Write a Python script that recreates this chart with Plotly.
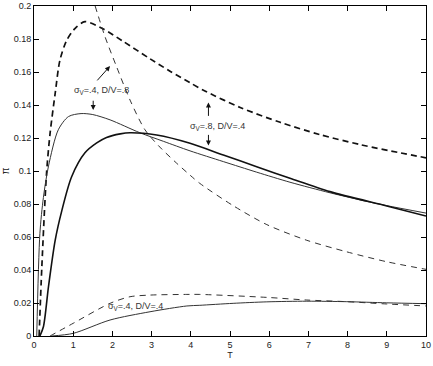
import plotly.graph_objects as go

# thick dashed curve
t_a = [0.13, 0.2, 0.32, 0.41, 0.54, 0.66, 0.83, 1.05, 1.3, 1.77, 2.28, 2.96, 3.47, 3.98, 4.36, 5.26, 6.28, 7.3, 8.32, 9.34, 10]
v_a = [0, 0.042, 0.0986, 0.1228, 0.147, 0.167, 0.179, 0.1865, 0.1905, 0.186, 0.1785, 0.168, 0.1605, 0.1535, 0.1485, 0.1385, 0.1295, 0.122, 0.116, 0.111, 0.108]

# thin dashed steep curve
t_b = [1.56, 1.81, 2.11, 2.45, 2.83, 3.21, 3.64, 3.98, 4.23, 5.08, 5.94, 6.96, 7.98, 9.0, 10]
v_b = [0.2, 0.1815, 0.163, 0.143, 0.125, 0.1145, 0.1047, 0.0975, 0.0925, 0.079, 0.0675, 0.058, 0.051, 0.045, 0.0404]

# thin solid upper
t_c = [0.07, 0.15, 0.24, 0.37, 0.62, 0.88, 1.2, 1.5, 1.94, 2.7, 3.3, 3.98, 4.83, 5.68, 6.53, 7.55, 8.5, 9.0, 10]
v_c = [0, 0.062, 0.084, 0.103, 0.125, 0.133, 0.1348, 0.1342, 0.131, 0.1232, 0.118, 0.1122, 0.1057, 0.0993, 0.0932, 0.0868, 0.0815, 0.079, 0.0745]

# thick solid upper
t_d = [0.15, 0.24, 0.37, 0.54, 0.71, 0.96, 1.3, 1.6, 1.85, 2.2, 2.45, 3.13, 3.98, 4.83, 5.68, 6.53, 7.55, 9.0, 10]
v_d = [0, 0.0056, 0.030, 0.058, 0.076, 0.0965, 0.111, 0.117, 0.1203, 0.1225, 0.1232, 0.1218, 0.1168, 0.1097, 0.1026, 0.0956, 0.0875, 0.0788, 0.0727]

# thin dashed lower
t_e = [0.41, 1.0, 1.94, 2.45, 2.96, 3.9, 4.23, 5.94, 6.96, 7.98, 9.0, 10]
v_e = [0, 0.0077, 0.0198, 0.0238, 0.0248, 0.0252, 0.0252, 0.0234, 0.0218, 0.0208, 0.0194, 0.0182]

# thin solid lower
t_f = [0.45, 1.0, 1.94, 2.96, 3.9, 4.23, 5.08, 5.94, 6.96, 7.98, 9.0, 10]
v_f = [0, 0.0016, 0.0097, 0.0147, 0.0182, 0.0186, 0.0198, 0.0207, 0.0211, 0.0208, 0.0201, 0.0196]

x_ticks = [0, 1, 2, 3, 4, 5, 6, 7, 8, 9, 10]
y_ticks = [0, 0.02, 0.04, 0.06, 0.08, 0.1, 0.12, 0.14, 0.16, 0.18, 0.2]
y_labels = ["0", "0.02", "0.04", "0.06", "0.08", "0.1", "0.12", "0.14", "0.16", "0.18", "0.2"]

FONT = "Liberation Sans, Arial, sans-serif"

fig = go.Figure()
series = [
    (t_a, v_a, 1.7, "6px,4px", "#111"),
    (t_b, v_b, 1.0, "6px,5px", "#333"),
    (t_c, v_c, 1.0, "solid", "#333"),
    (t_d, v_d, 1.6, "solid", "#111"),
    (t_e, v_e, 1.0, "6px,5px", "#333"),
    (t_f, v_f, 1.0, "solid", "#333"),
]
for t, v, w, d, c in series:
    fig.add_trace(go.Scatter(x=t, y=v, mode="lines",
                             line=dict(color=c, width=w, dash=d, shape="spline", smoothing=0.8),
                             showlegend=False, hoverinfo="skip"))

axis_common = dict(showgrid=False, zeroline=False, showline=True, linecolor="black",
                   linewidth=1, mirror="ticks", ticks="inside", ticklen=5,
                   tickcolor="black", automargin=False,
                   tickfont=dict(size=9, color="#222", family=FONT))

fig.update_xaxes(range=[0, 10], tickvals=x_ticks,
                 title=dict(text="T", font=dict(size=9, color="#222", family=FONT), standoff=2),
                 **axis_common)
fig.update_yaxes(range=[0, 0.2], tickvals=y_ticks, ticktext=y_labels,
                 title=dict(text="π", font=dict(size=10, color="#222", family=FONT), standoff=6),
                 **axis_common)

afont = dict(size=9, color="#333", family=FONT)
ann = [
    dict(x=1.73, y=0.1485, text="σ<sub>V</sub>=.4, D/V=.8", showarrow=False, font=afont),
    dict(x=4.69, y=0.127, text="σ<sub>V</sub>=.8, D/V=.4", showarrow=False, font=afont),
    dict(x=2.58, y=0.0176, text="σ<sub>V</sub>=.4, D/V=.4", showarrow=False, font=afont),
]
arrows = [
    (1.94, 0.1636, 1.58, 0.154),
    (1.51, 0.137, 1.51, 0.1435),
    (4.45, 0.1415, 4.45, 0.1325),
    (4.45, 0.1155, 4.45, 0.1228),
]
for hx, hy, tx, ty in arrows:
    ann.append(dict(x=hx, y=hy, ax=tx, ay=ty, xref="x", yref="y", axref="x", ayref="y",
                    text="", showarrow=True, arrowhead=2, arrowsize=1, arrowwidth=1,
                    arrowcolor="#111"))

fig.update_layout(width=433, height=366, margin=dict(l=34, r=7, t=6, b=30),
                  plot_bgcolor="white", paper_bgcolor="white", annotations=ann,
                  font=dict(family=FONT))

fig.write_html("out.html")
